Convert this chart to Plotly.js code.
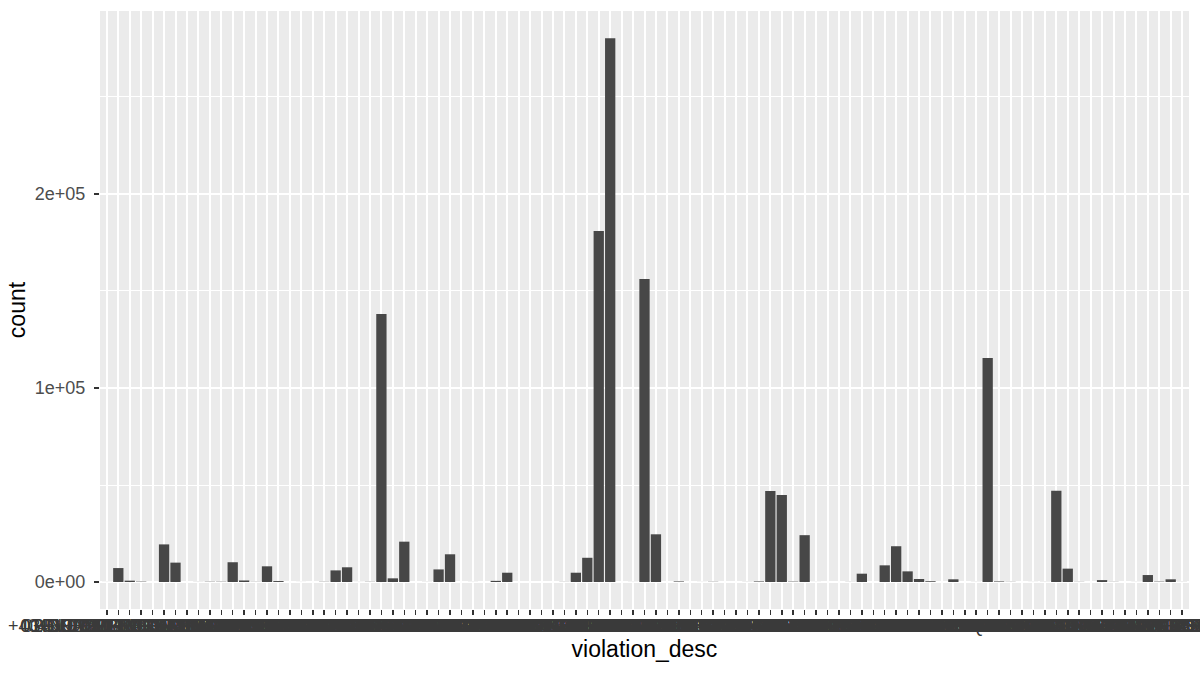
<!DOCTYPE html>
<html>
<head>
<meta charset="utf-8">
<script src="https://cdn.plot.ly/plotly-3.0.1.min.js"></script>
<style>
  html, body { margin: 0; padding: 0; background: #ffffff; }
  #chart { width: 1200px; height: 675px; }
</style>
</head>
<body>
<div id="chart"></div>
<script>
  // violation descriptions, in axis order
  const categories = [
    '+4 HOUR METER LIMIT', '01-NO INTERCITY PMT', '02-NO OPERATOR PRMT', '03-UNAUTH VEHICLE IDENT',
    '04-VEHICLE FOR HIRE ZONE', '05-BUS LANE VIOLATION CAM', '06-OVERNIGHT TRAILER PRKG', '07-VEHICLE TINTED GLASS',
    '08-IDLING MOTOR VEHICLE', '09-BLOCKING INTERSECTION', '10-NO STOPPING', '11-HOTEL LOADING/UNLOADING',
    '12-NO STAND SNOW EMERGENCY', '13-NO STAND TAXI STAND', '14-NO STANDING', '16-NO STD COM VEH COM PLATE',
    '16A-NO STD COM VEH NON-COM', '17-NO STAND EXC AUTH VEH', '18-NO STAND BUS LANE', '19-NO STAND BUS STOP',
    '20A-NO PARKING NON-COM', '20-NO PARKING COM PLATE', '21-NO PARKING STREET CLEAN', '22-NO PARKING EXC HOTEL LOAD',
    '24-NO PARKING EXC AUTH VEH', '25-NO STAND COMMUTER VAN', '26-NO STND FOR-HIRE VEH ONLY', '27-NO PARKING EXC DSBLTY',
    '28-OVERTIME STDG D', '29-ALTERED INTERCITY BUS PMT', '30-NO STOPPING/STANDING', '31-NO STAND COM MTR ZONE',
    '32-OVERTIME PKG-MISSING METER', '33-FEEDING METER', '35-SELLING/OFFERING MERCHANDISE', '36-PHTO SCHOOL ZN SPEED VIOL',
    '37-EXPIRED MUNI METER', '38-FAILURE TO DISPLAY MUNI REC', '39-OVERTIME PKG-TIME LIMIT', '40-FIRE HYDRANT',
    '42-EXP METER COM MTR ZONE', '45-TRAFFIC LANE', '46A-DOUBLE PARKING NON-COM', '46B-DOUBLE PARKING COM-100FT',
    '47-DOUBLE PKG-MIDTOWN', '48-BIKE LANE', '49-EXCAVATION OBSTRUCT TRAFF', '50-CROSSWALK',
    '51-SIDEWALK', '52-INTERSECTION', '53-SAFETY ZONE', '55-TUNNEL/ELEVATED/ROADWAY',
    '56-DIVIDED HIGHWAY', '57-BLUE ZONE', '58-MARGINAL STREET/WATER FRONT', '59-ANGLE PARKING-COMM VEHICLE',
    '60-ANGLE PARKING', '61-WRONG WAY', '62-BEYOND MARKED SPACE', '63-NIGHTTIME STD/PKG IN A PARK',
    '64-NO STAND EXC CON REP PLATES', '66-DETACHED TRAILER', '67-BLOCKING PED. RAMP', '68-NON-COMPLIANCE W/ POSTED SIGN',
    '69-FAILURE TO DISP MUNI RECPT', '70A-REG. STICKER EXPIRED NYS', '70B-IMPROPER DISPLAY OF REG', '71A-INSP STICKER EXPIRED NYS',
    '71B-IMPROPER SAFETY STICKER', '72-INSP STICKER MUTILATED', '73-REG STICKER MISSING NYS', '74A-IMPROPERLY DISPLAYED PLATE',
    '74B-COVERED PLATE', '75-NO MATCH-PLATE/REG. STICKER', '77-PARKED BUS EXC DESIG AREA', '78-NIGHTTIME PKG ON RESIDENTIAL ST',
    '79-BUS LAYOVER', '7-FAILURE TO STOP AT RED LIGHT', '80-MISSING EQUIPMENT SPECIFY', '81-NO STAND EXC TRUCKS',
    '82-UNALTERED COMMERC VEHICLE', '83-IMPROPER REGISTRATION', '84-PLATFORM LIFTS IN LOW POSIT', '85-STORAGE-3 HR COMMERCIAL',
    '86-MIDTOWN PKG OR STD-3 HR LIM', '89-NO STAND EXC TRUCKS', '91-VEH FOR SALE DEALER ONLY', '92-WASHING/REPAIRING VEHICLE',
    '93-REMOVED PLATE', '96-RAILROAD CROSSING', '97-VACANT LOT', '98-OBSTRUCTING DRIVEWAY',
    '99-OTHER', 'BLUE ZONE', 'WRONG WAY'
  ];

  // ticket counts per description
  const counts = [
    40, 7200, 700, 200, 25, 19400, 10000, 15, 60, 150,
    150, 10200, 800, 100, 8100, 500, 10, 35, 20, 120,
    6000, 7600, 40, 120, 138100, 1900, 20800, 30, 55, 6500,
    14300, 20, 45, 12, 600, 4800, 25, 10, 30, 15,
    80, 4800, 12500, 180900, 280250, 20, 45, 156200, 24600, 30,
    300, 18, 40, 120, 22, 10, 60, 300, 46900, 44800,
    200, 24150, 40, 15, 30, 70, 4300, 25, 8600, 18450,
    5500, 1550, 400, 30, 1400, 20, 50, 115500, 300, 100,
    25, 40, 60, 47050, 6900, 100, 30, 1000, 100, 20,
    45, 3600, 200, 1400, 60
  ];

  const yTickVals = [0, 100000, 200000];
  const yTickText = ['0e+00', '1e+05', '2e+05'];

  const traces = [{
    type: 'bar',
    x: categories,
    y: counts,
    marker: { color: '#474747', line: { width: 0 } },
    hoverinfo: 'x+y'
  }];

  const layout = {
    width: 1200,
    height: 675,
    margin: { l: 100, r: 11, t: 11, b: 66 },
    paper_bgcolor: '#ffffff',
    plot_bgcolor: '#ebebeb',
    font: { family: 'Liberation Sans, Arial, sans-serif', size: 18, color: '#4d4d4d' },
    showlegend: false,
    bargap: 0.1,
    xaxis: {
      type: 'category',
      range: [-0.6, categories.length - 0.4],
      tickmode: 'array',
      tickvals: categories,
      ticktext: categories,
      tickangle: 0,
      ticks: 'outside',
      ticklen: 5,
      tickwidth: 1.5,
      tickcolor: '#333333',
      tickfont: { size: 18, color: '#3a3a3a' },
      ticklabelstandoff: -5,
      showgrid: true,
      gridcolor: '#ffffff',
      gridwidth: 2,
      showline: false,
      zeroline: false,
      automargin: false,
      title: { text: 'violation_desc', font: { size: 23, color: '#000000' }, standoff: 6 }
    },
    yaxis: {
      range: [-13900, 294300],
      tickmode: 'array',
      tickvals: yTickVals,
      ticktext: yTickText,
      ticks: 'outside',
      ticklen: 5,
      tickwidth: 1.5,
      tickcolor: '#333333',
      tickfont: { size: 18, color: '#4d4d4d' },
      ticklabelstandoff: 5,
      showgrid: true,
      gridcolor: '#ffffff',
      gridwidth: 2,
      minor: { dtick: 50000, tick0: 0, showgrid: true, gridcolor: '#ffffff', gridwidth: 1, ticks: '' },
      zeroline: false,
      showline: false,
      automargin: false,
      title: { text: 'count', font: { size: 23, color: '#000000' }, standoff: 2 }
    }
  };

  // static rendering keeps sub-pixel bars thin instead of expanding them
  const config = { displayModeBar: false, staticPlot: true };

  Plotly.newPlot('chart', traces, layout, config);
</script>
</body>
</html>
